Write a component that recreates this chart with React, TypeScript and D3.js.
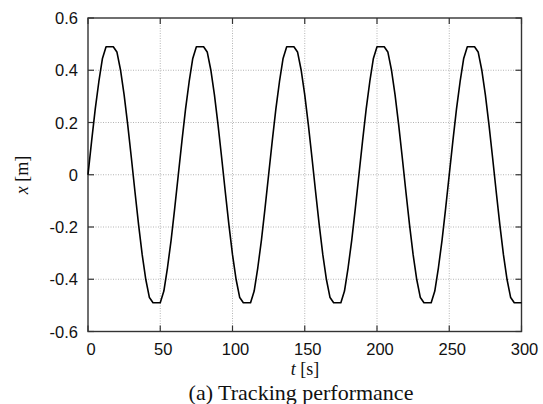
import React, { useEffect, useRef } from "react";
import * as d3 from "d3";

const times = [
  0, 2.5, 5, 7.5, 10, 12.5, 15, 17.5, 20, 22.5, 25, 27.5, 30, 32.5, 35, 37.5, 40, 42.5, 45, 47.5, 50, 52.5, 55, 57.5, 60,
  62.5, 65, 67.5, 70, 72.5, 75, 77.5, 80, 82.5, 85, 87.5, 90, 92.5, 95, 97.5, 100, 102.5, 105, 107.5, 110, 112.5, 115, 117.5, 120, 122.5,
  125, 127.5, 130, 132.5, 135, 137.5, 140, 142.5, 145, 147.5, 150, 152.5, 155, 157.5, 160, 162.5, 165, 167.5, 170, 172.5, 175, 177.5, 180, 182.5, 185,
  187.5, 190, 192.5, 195, 197.5, 200, 202.5, 205, 207.5, 210, 212.5, 215, 217.5, 220, 222.5, 225, 227.5, 230, 232.5, 235, 237.5, 240, 242.5, 245, 247.5,
  250, 252.5, 255, 257.5, 260, 262.5, 265, 267.5, 270, 272.5, 275, 277.5, 280, 282.5, 285, 287.5, 290, 292.5, 295, 297.5, 300,
];

// position x [m]
const positions = [
  0, 0.129, 0.251, 0.356, 0.445, 0.49, 0.49, 0.49, 0.47, 0.401, 0.306, 0.191, 0.065, -0.065, -0.191, -0.306, -0.401, -0.47, -0.49, -0.49, -0.49, -0.445, -0.356, -0.251, -0.129,
  0, 0.129, 0.251, 0.356, 0.445, 0.49, 0.49, 0.49, 0.47, 0.401, 0.306, 0.191, 0.065, -0.065, -0.191, -0.306, -0.401, -0.47, -0.49, -0.49, -0.49, -0.445, -0.356, -0.251, -0.129,
  0, 0.129, 0.251, 0.356, 0.445, 0.49, 0.49, 0.49, 0.47, 0.401, 0.306, 0.191, 0.065, -0.065, -0.191, -0.306, -0.401, -0.47, -0.49, -0.49, -0.49, -0.445, -0.356, -0.251, -0.129,
  0, 0.129, 0.251, 0.356, 0.445, 0.49, 0.49, 0.49, 0.47, 0.401, 0.306, 0.191, 0.065, -0.065, -0.191, -0.306, -0.401, -0.47, -0.49, -0.49, -0.49, -0.445, -0.356, -0.251, -0.129,
  0, 0.129, 0.251, 0.356, 0.445, 0.49, 0.49, 0.49, 0.47, 0.401, 0.306, 0.191, 0.065, -0.065, -0.191, -0.306, -0.401, -0.47, -0.49, -0.49, -0.49,
];

const xTicks = [0, 50, 100, 150, 200, 250, 300];
const yTicks = [-0.6, -0.4, -0.2, 0, 0.2, 0.4, 0.6];
const yTickLabels = ["-0.6", "-0.4", "-0.2", "0", "0.2", "0.4", "0.6"];

const App = () => {
    const svgRef = useRef<SVGSVGElement>(null);

    useEffect(() => {
        const width = 543;
        const height = 404;
        const margin = { top: 18, right: 21.5, bottom: 72.5, left: 88 };

        const svg = d3.select(svgRef.current)
            .attr("width", width)
            .attr("height", height);

        svg.selectAll("*").remove();

        const x = d3.scaleLinear().domain([0, 300]).range([margin.left, width - margin.right]);
        const y = d3.scaleLinear().domain([-0.6, 0.6]).range([height - margin.bottom, margin.top]);

        const x0 = x.range()[0], x1 = x.range()[1];
        const y0 = y.range()[0], y1 = y.range()[1];

        // dotted grid
        const grid = svg.append("g")
            .attr("stroke", "#b5b5b5")
            .attr("stroke-width", 1)
            .attr("stroke-dasharray", "1,1.5");
        grid.selectAll(".gx")
            .data(xTicks.slice(1, -1))
            .enter()
            .append("line")
            .attr("x1", d => x(d)).attr("x2", d => x(d))
            .attr("y1", y1).attr("y2", y0);
        grid.selectAll(".gy")
            .data(yTicks.slice(1, -1))
            .enter()
            .append("line")
            .attr("x1", x0).attr("x2", x1)
            .attr("y1", d => y(d)).attr("y2", d => y(d));

        // inward ticks on all sides
        const ticks = svg.append("g").attr("stroke", "#333").attr("stroke-width", 1.2);
        xTicks.forEach(t => {
            ticks.append("line").attr("x1", x(t)).attr("x2", x(t)).attr("y1", y0).attr("y2", y0 - 6);
            ticks.append("line").attr("x1", x(t)).attr("x2", x(t)).attr("y1", y1).attr("y2", y1 + 6);
        });
        yTicks.forEach(v => {
            ticks.append("line").attr("x1", x0).attr("x2", x0 + 6).attr("y1", y(v)).attr("y2", y(v));
            ticks.append("line").attr("x1", x1).attr("x2", x1 - 6).attr("y1", y(v)).attr("y2", y(v));
        });

        // frame
        svg.append("rect")
            .attr("x", x0).attr("y", y1)
            .attr("width", x1 - x0).attr("height", y0 - y1)
            .attr("fill", "none")
            .attr("stroke", "#333")
            .attr("stroke-width", 1.4);

        // tick labels
        svg.append("g")
            .selectAll("text")
            .data(xTicks)
            .enter()
            .append("text")
            .attr("x", d => x(d) + 3)
            .attr("y", y0 + 23.5)
            .attr("text-anchor", "middle")
            .attr("font-family", "'Liberation Sans', Arial, sans-serif")
            .attr("font-size", 16.5)
            .attr("fill", "#111")
            .text(d => String(d));

        svg.append("g")
            .selectAll("text")
            .data(yTicks)
            .enter()
            .append("text")
            .attr("x", x0 - 10)
            .attr("y", d => y(d) + 6)
            .attr("text-anchor", "end")
            .attr("font-family", "'Liberation Sans', Arial, sans-serif")
            .attr("font-size", 16.5)
            .attr("fill", "#111")
            .text((d, i) => yTickLabels[i]);

        // the curve
        const line = d3.line<number>()
            .x((d, i) => x(times[i]))
            .y(d => y(d));

        svg.append("path")
            .datum(positions)
            .attr("fill", "none")
            .attr("stroke", "#000")
            .attr("stroke-width", 1.6)
            .attr("stroke-linejoin", "round")
            .attr("d", line);

        // axis labels
        const serif = "'Liberation Serif', 'Times New Roman', serif";
        const xl = svg.append("text")
            .attr("x", 305)
            .attr("y", 375)
            .attr("text-anchor", "middle")
            .attr("font-family", serif)
            .attr("font-size", 18)
            .attr("fill", "#111");
        xl.append("tspan").attr("font-style", "italic").text("t");
        xl.append("tspan").text(" [s]");

        const yl = svg.append("text")
            .attr("transform", "translate(28,175) rotate(-90)")
            .attr("text-anchor", "middle")
            .attr("font-family", serif)
            .attr("font-size", 18)
            .attr("fill", "#111");
        yl.append("tspan").attr("font-style", "italic").text("x");
        yl.append("tspan").text(" [m]");

        svg.append("text")
            .attr("x", 301)
            .attr("y", 400)
            .attr("text-anchor", "middle")
            .attr("font-family", serif)
            .attr("font-size", 22)
            .attr("fill", "#111")
            .text("(a) Tracking performance");
    }, []);

    return (
        <div style={{ position: "absolute", left: 0, top: 0 }}>
            <svg ref={svgRef}></svg>
        </div>
    );
};

export default App;
